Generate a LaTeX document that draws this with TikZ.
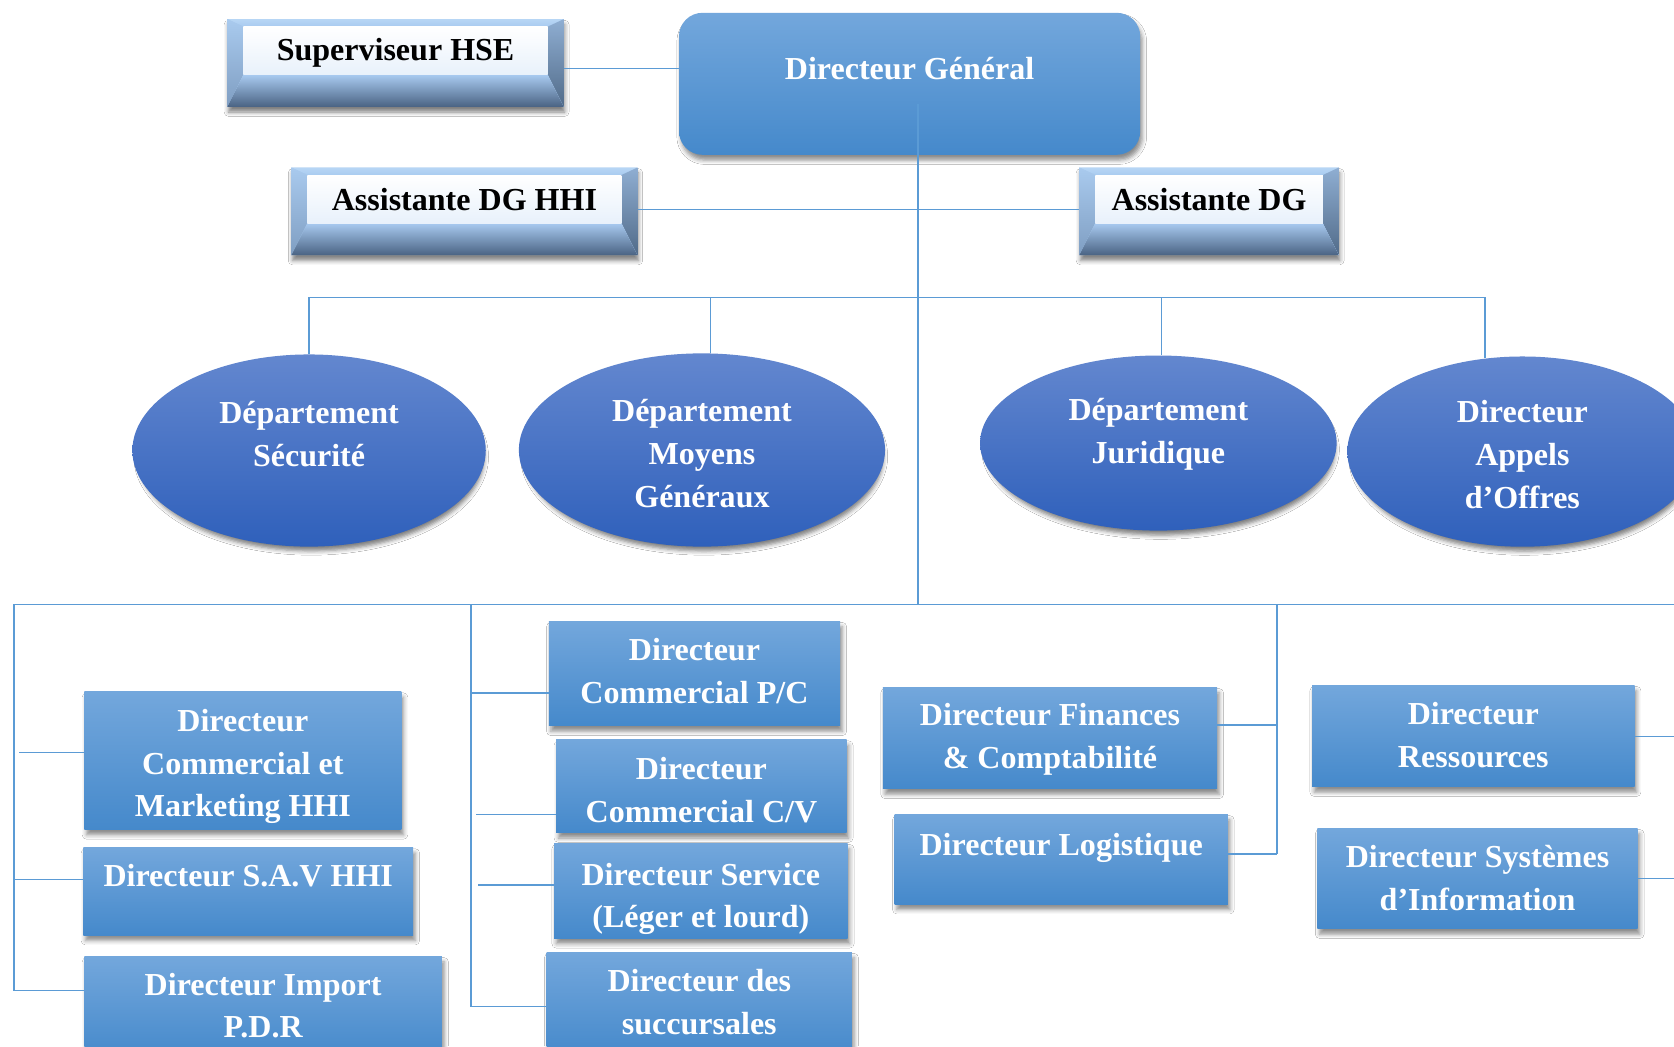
\documentclass[tikz,border=0pt]{standalone}
\usepackage{fontspec}
\setmainfont{Liberation Serif}
\usetikzlibrary{shapes.geometric,shadows.blur,calc}

\definecolor{linkblue}{HTML}{5B9BD5}
\definecolor{boxtop}{HTML}{73A7DC}
\definecolor{boxbot}{HTML}{4589CB}
\definecolor{elltop}{HTML}{6387CF}
\definecolor{ellbot}{HTML}{2F60BB}
\definecolor{bevTopA}{HTML}{B7D6F5}
\definecolor{bevTopB}{HTML}{A9CBF0}
\definecolor{bevLeftA}{HTML}{A9CAEE}
\definecolor{bevLeftB}{HTML}{7F9EC2}
\definecolor{bevRightA}{HTML}{8FAED2}
\definecolor{bevRightB}{HTML}{516B89}
\definecolor{bevBotA}{HTML}{A8CAF0}
\definecolor{bevBotM}{HTML}{93B4DC}
\definecolor{bevBotB}{HTML}{4A6383}
\definecolor{bevFace}{HTML}{E8F1FB}

\tikzset{
  % #1: height of the text block above the baseline of its last line
  lbl/.style={font=\fontsize{30}{40}\selectfont\bfseries, align=center,
    text height=#1, text depth=10pt},
  softshadow/.style={blur shadow={shadow xshift=2pt, shadow yshift=-5pt,
    shadow blur radius=4pt, shadow opacity=45}},
  bluebox/.style={rectangle, inner sep=0pt, top color=boxtop,
    bottom color=boxbot, text=white, softshadow},
  dgbox/.style={bluebox, rounded corners=22pt},
  dept/.style={ellipse, inner sep=0pt, top color=elltop, bottom color=ellbot,
    text=white, blur shadow={shadow xshift=2pt, shadow yshift=-6pt,
    shadow scale=0.98, shadow blur radius=4pt, shadow opacity=50}},
  bevelbox/.style={rectangle, inner sep=0pt, fill=bevLeftA, text=black,
    blur shadow={shadow xshift=1pt, shadow yshift=-5pt,
      shadow blur radius=4pt, shadow opacity=50},
    path picture={
      \coordinate (bvA) at (path picture bounding box.north west);
      \coordinate (bvC) at (path picture bounding box.south east);
      \coordinate (fcA) at ($(bvA)+(15,-7)$);
      \coordinate (fcC) at ($(bvC)+(-15,30)$);
      \fill[top color=bevTopA, bottom color=bevTopB]
        (bvA) -- (bvA -| bvC) -- (fcA -| fcC) -- (fcA) -- cycle;
      \fill[top color=bevLeftA, bottom color=bevLeftB]
        (bvA) -- (fcA) -- (fcA |- fcC) -- (bvA |- bvC) -- cycle;
      \fill[top color=bevRightA, bottom color=bevRightB]
        (bvA -| bvC) -- (bvC) -- (fcC) -- (fcA -| fcC) -- cycle;
      \fill[top color=bevBotA, middle color=bevBotM, bottom color=bevBotB]
        (bvA |- bvC) -- (bvC) -- (fcC) -- (fcA |- fcC) -- cycle;
      \fill[top color=white, bottom color=bevFace] (fcA) rectangle (fcC);
    }},
  link/.style={draw=linkblue, line width=1.3pt}
}

\begin{document}
\begin{tikzpicture}[x=1pt, y=1pt]
\clip (0,0) rectangle (1568,-980);
\fill[white] (0,0) rectangle (1568,-980);

% --- top management ---
\node[dgbox, minimum width=432pt, minimum height=133pt, lbl=1pt]
  (dg) at (852,-78.5) {Directeur Général};
\node[bevelbox, minimum width=315pt, minimum height=82pt, lbl=6pt]
  (hse) at (370.5,-59) {Superviseur HSE};
\node[bevelbox, minimum width=324pt, minimum height=82pt, lbl=8pt]
  (adghhi) at (435,-198) {Assistante DG HHI};
\node[bevelbox, minimum width=243pt, minimum height=82pt, lbl=8pt]
  (adg) at (1132.5,-198) {Assistante DG};

% --- departments ---
\node[dept, minimum width=331pt, minimum height=180pt, lbl=40pt]
  (e1) at (289.5,-422) {Département\\Sécurité};
\node[dept, minimum width=343pt, minimum height=181pt, lbl=117pt]
  (e2) at (657.5,-421.5) {Département\\Moyens\\Généraux};
\node[dept, minimum width=334pt, minimum height=164pt, lbl=48pt]
  (e3) at (1085,-415) {Département\\Juridique};
\node[dept, minimum width=328pt, minimum height=178pt, lbl=116pt]
  (e4) at (1426,-423) {Directeur\\Appels\\d’Offres};

% --- directors ---
\node[bluebox, minimum width=297pt, minimum height=129pt, lbl=115pt]
  (mkt) at (227.5,-712.5) {Directeur\\Commercial et\\Marketing HHI};
\node[bluebox, minimum width=309pt, minimum height=82pt, lbl=0pt]
  (sav) at (232.5,-835) {Directeur S.A.V HHI};
\node[bluebox, minimum width=335pt, minimum height=96pt, lbl=66pt]
  (imp) at (246.5,-944) {Directeur Import\\P.D.R};
\node[bluebox, minimum width=273pt, minimum height=98pt, lbl=66pt]
  (pc) at (650.5,-631) {Directeur\\Commercial P/C};
\node[bluebox, minimum width=272pt, minimum height=87pt, lbl=77pt]
  (cv) at (657,-736.5) {Directeur\\Commercial C/V};
\node[bluebox, minimum width=275pt, minimum height=85pt, lbl=79pt]
  (svc) at (656.5,-834.5) {Directeur Service\\(Léger et lourd)};
\node[bluebox, minimum width=286pt, minimum height=98pt, lbl=66pt]
  (suc) at (655,-941) {Directeur des\\succursales};
\node[bluebox, minimum width=313pt, minimum height=95pt, lbl=67pt]
  (fin) at (983.5,-691.5) {Directeur Finances\\\& Comptabilité};
\node[bluebox, minimum width=312pt, minimum height=84pt, lbl=2pt]
  (log) at (994,-805) {Directeur Logistique};
\node[bluebox, minimum width=302pt, minimum height=95pt, lbl=69pt]
  (res) at (1380,-689.5) {Directeur\\Ressources};
\node[bluebox, minimum width=300pt, minimum height=94pt, lbl=70pt]
  (sys) at (1384,-823) {Directeur Systèmes\\d’Information};

% --- bus points ---
\coordinate (dgfoot) at (860,-97);
\coordinate (upperbus) at (860,-278.5);
\coordinate (lowerbus) at (860,-566);
\coordinate (busLeft) at (13,-566);
\coordinate (busRight) at (1600,-566);
\coordinate (colA) at (13,-928);
\coordinate (colB) at (441,-943);
\coordinate (colC) at (1196,-800);
\coordinate (tickMkt) at (18,-705);
\coordinate (tickCv) at (446,-763);
\coordinate (tickSvc) at (448,-829);
\coordinate (offR1) at (1600,-690);
\coordinate (offR2) at (1600,-823);

% --- connectors: top ---
\draw[link] (hse.east |- 0,-64) -- (dg.west |- 0,-64);
\draw[link] (adghhi.east |- 0,-196) -- (adg.west |- 0,-196);
\draw[link] (dgfoot) -- (lowerbus);

% --- connectors: departments ---
\draw[link] (e1.north |- upperbus) -- (e4.112 |- upperbus);
\draw[link] (e1.north |- upperbus) -- (e1.north);
\draw[link] (e2.85 |- upperbus) -- (e2.85);
\draw[link] (e3.88 |- upperbus) -- (e3.88);
\draw[link] (e4.112 |- upperbus) -- (e4.112);

% --- connectors: directors ---
\draw[link] (busLeft) -- (busRight);
\draw[link] (busLeft) -- (colA);
\draw[link] (colB |- lowerbus) -- (colB);
\draw[link] (colC |- lowerbus) -- (colC);

\draw[link] (tickMkt) -- (mkt.west |- tickMkt);
\draw[link] (colA |- 0,-824) -- (sav.west |- 0,-824);
\draw[link] (colA) -- (imp.west |- colA);

\draw[link] (colB |- 0,-649) -- (pc.west |- 0,-649);
\draw[link] (tickCv) -- (cv.west |- tickCv);
\draw[link] (tickSvc) -- (svc.west |- tickSvc);
\draw[link] (colB) -- (suc.west |- colB);

\draw[link] (fin.east |- 0,-679) -- (colC |- 0,-679);
\draw[link] (log.east |- colC) -- (colC);

\draw[link] (res.east |- offR1) -- (offR1);
\draw[link] (sys.east |- offR2) -- (offR2);
\end{tikzpicture}
\end{document}
